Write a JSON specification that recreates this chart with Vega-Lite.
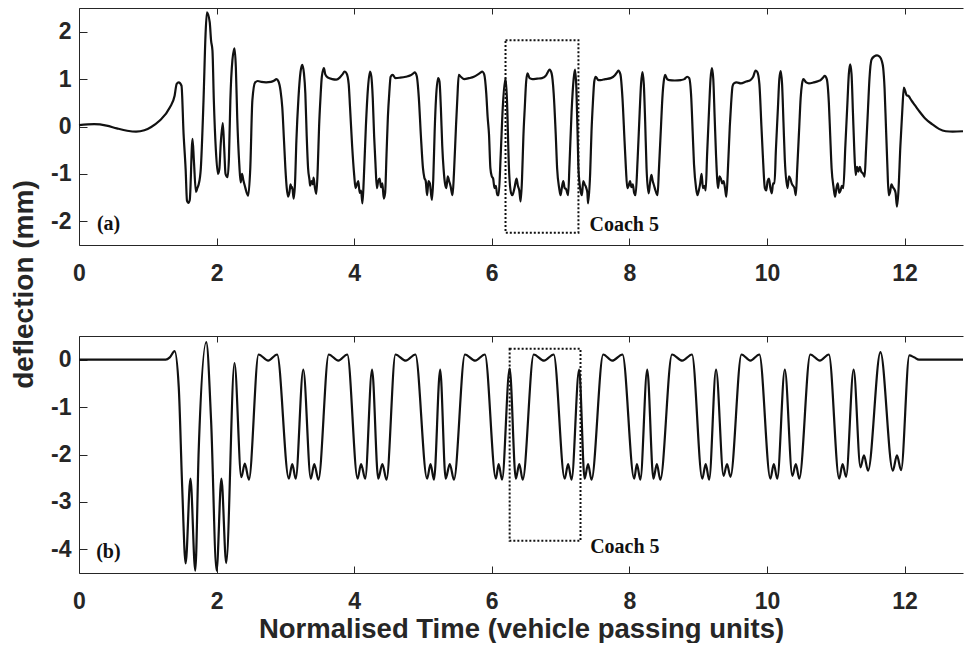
{
  "$schema": "https://vega.github.io/schema/vega-lite/v6.json",
  "padding": {"left": 10, "top": 7, "right": 0, "bottom": 0},
  "background": "white",
  "config": {
    "view": {"stroke": null},
    "axis": {
      "grid": false,
      "domainColor": "#262626",
      "domainWidth": 1,
      "tickColor": "#262626",
      "tickWidth": 1,
      "labelFont": "Liberation Sans",
      "labelFontWeight": "bold",
      "labelFontSize": 23,
      "labelColor": "#262626",
      "labelFlush": false,
      "titleFont": "Liberation Sans",
      "titleFontWeight": "bold",
      "titleColor": "#262626"
    }
  },
  "datasets": {
    "measured": [
      {"t": 0.00, "d": 0.03}, {"t": 0.22, "d": 0.05}, {"t": 0.40, "d": 0.02}, {"t": 0.55, "d": -0.04},
      {"t": 0.70, "d": -0.09}, {"t": 0.83, "d": -0.11}, {"t": 0.95, "d": -0.08}, {"t": 1.05, "d": -0.01},
      {"t": 1.17, "d": 0.12}, {"t": 1.32, "d": 0.40}, {"t": 1.39, "d": 0.65}, {"t": 1.42, "d": 0.90},
      {"t": 1.45, "d": 0.93}, {"t": 1.49, "d": 0.86}, {"t": 1.52, "d": -0.15}, {"t": 1.55, "d": -0.90},
      {"t": 1.57, "d": -1.57}, {"t": 1.59, "d": -1.61}, {"t": 1.61, "d": -1.55}, {"t": 1.65, "d": -0.26},
      {"t": 1.67, "d": -0.72}, {"t": 1.70, "d": -1.38}, {"t": 1.72, "d": -1.30}, {"t": 1.74, "d": -1.22},
      {"t": 1.77, "d": -0.90}, {"t": 1.81, "d": 0.55}, {"t": 1.84, "d": 1.96}, {"t": 1.86, "d": 2.41},
      {"t": 1.90, "d": 2.20}, {"t": 1.92, "d": 1.81}, {"t": 1.94, "d": 1.60}, {"t": 1.96, "d": 0.55},
      {"t": 1.99, "d": -0.51}, {"t": 2.02, "d": -1.00}, {"t": 2.04, "d": -0.90}, {"t": 2.06, "d": -0.37},
      {"t": 2.09, "d": 0.07}, {"t": 2.11, "d": -0.44}, {"t": 2.13, "d": -1.00}, {"t": 2.16, "d": -1.07},
      {"t": 2.18, "d": -0.65}, {"t": 2.20, "d": 0.55}, {"t": 2.23, "d": 1.40}, {"t": 2.26, "d": 1.65},
      {"t": 2.28, "d": 1.25}, {"t": 2.30, "d": 0.19}, {"t": 2.33, "d": -0.80}, {"t": 2.35, "d": -1.18},
      {"t": 2.37, "d": -1.00}, {"t": 2.39, "d": -1.14}, {"t": 2.41, "d": -1.25}, {"t": 2.46, "d": -1.46},
      {"t": 2.49, "d": -0.87}, {"t": 2.52, "d": 0.55}, {"t": 2.56, "d": 0.93}, {"t": 2.60, "d": 0.96},
      {"t": 2.65, "d": 0.94}, {"t": 2.72, "d": 0.93}, {"t": 2.79, "d": 0.94}, {"t": 2.84, "d": 0.97},
      {"t": 2.87, "d": 1.00}, {"t": 2.90, "d": 0.95}, {"t": 2.93, "d": 0.75}, {"t": 2.955, "d": 0.40},
      {"t": 2.98, "d": -0.30}, {"t": 3.00, "d": -0.88}, {"t": 3.02, "d": -1.30}, {"t": 3.04, "d": -1.48},
      {"t": 3.06, "d": -1.38}, {"t": 3.075, "d": -1.22}, {"t": 3.09, "d": -1.30}, {"t": 3.10, "d": -1.28},
      {"t": 3.12, "d": -1.52}, {"t": 3.14, "d": -1.20}, {"t": 3.16, "d": -0.30}, {"t": 3.19, "d": 0.60},
      {"t": 3.22, "d": 1.15}, {"t": 3.245, "d": 1.30}, {"t": 3.27, "d": 1.12}, {"t": 3.29, "d": 0.70},
      {"t": 3.31, "d": -0.20}, {"t": 3.33, "d": -0.88}, {"t": 3.35, "d": -1.12}, {"t": 3.36, "d": -1.25},
      {"t": 3.38, "d": -1.15}, {"t": 3.40, "d": -1.22}, {"t": 3.41, "d": -1.08}, {"t": 3.43, "d": -1.30},
      {"t": 3.45, "d": -1.42}, {"t": 3.47, "d": -0.90}, {"t": 3.49, "d": 0.00}, {"t": 3.51, "d": 0.60},
      {"t": 3.53, "d": 1.05}, {"t": 3.56, "d": 1.23}, {"t": 3.58, "d": 1.10}, {"t": 3.62, "d": 1.03},
      {"t": 3.68, "d": 1.00}, {"t": 3.74, "d": 0.99}, {"t": 3.79, "d": 1.03}, {"t": 3.83, "d": 1.10},
      {"t": 3.86, "d": 1.16}, {"t": 3.89, "d": 1.12}, {"t": 3.92, "d": 0.90}, {"t": 3.94, "d": 0.40},
      {"t": 3.97, "d": -0.40}, {"t": 4.00, "d": -1.02}, {"t": 4.02, "d": -1.30}, {"t": 4.04, "d": -1.22},
      {"t": 4.06, "d": -1.15}, {"t": 4.08, "d": -1.40}, {"t": 4.10, "d": -1.35}, {"t": 4.12, "d": -1.62},
      {"t": 4.14, "d": -1.10}, {"t": 4.17, "d": 0.00}, {"t": 4.20, "d": 0.80}, {"t": 4.23, "d": 1.16},
      {"t": 4.25, "d": 1.05}, {"t": 4.27, "d": 0.60}, {"t": 4.29, "d": -0.20}, {"t": 4.31, "d": -0.80},
      {"t": 4.33, "d": -1.30}, {"t": 4.35, "d": -1.15}, {"t": 4.37, "d": -1.10}, {"t": 4.39, "d": -1.28},
      {"t": 4.41, "d": -1.20}, {"t": 4.43, "d": -1.52}, {"t": 4.45, "d": -1.40}, {"t": 4.47, "d": -0.60},
      {"t": 4.49, "d": 0.20}, {"t": 4.51, "d": 0.70}, {"t": 4.53, "d": 1.05}, {"t": 4.56, "d": 1.09},
      {"t": 4.60, "d": 1.02}, {"t": 4.67, "d": 1.03}, {"t": 4.75, "d": 1.05}, {"t": 4.82, "d": 1.08},
      {"t": 4.86, "d": 1.12}, {"t": 4.88, "d": 1.14}, {"t": 4.91, "d": 1.06}, {"t": 4.94, "d": 0.60},
      {"t": 4.97, "d": -0.20}, {"t": 5.00, "d": -0.88}, {"t": 5.02, "d": -1.08}, {"t": 5.04, "d": -1.15},
      {"t": 5.06, "d": -1.45}, {"t": 5.08, "d": -1.15}, {"t": 5.10, "d": -1.20}, {"t": 5.13, "d": -1.55},
      {"t": 5.15, "d": -1.10}, {"t": 5.17, "d": -0.10}, {"t": 5.19, "d": 0.60}, {"t": 5.22, "d": 1.02},
      {"t": 5.24, "d": 0.95}, {"t": 5.26, "d": 0.40}, {"t": 5.28, "d": -0.40}, {"t": 5.30, "d": -0.90},
      {"t": 5.32, "d": -1.20}, {"t": 5.34, "d": -1.30}, {"t": 5.36, "d": -1.05}, {"t": 5.38, "d": -1.15},
      {"t": 5.40, "d": -1.25}, {"t": 5.43, "d": -1.45}, {"t": 5.45, "d": -1.00}, {"t": 5.48, "d": 0.00},
      {"t": 5.50, "d": 0.60}, {"t": 5.52, "d": 1.09}, {"t": 5.55, "d": 1.05}, {"t": 5.60, "d": 1.00},
      {"t": 5.67, "d": 1.02}, {"t": 5.74, "d": 1.05}, {"t": 5.80, "d": 1.10}, {"t": 5.84, "d": 1.14},
      {"t": 5.86, "d": 1.16}, {"t": 5.89, "d": 1.10}, {"t": 5.92, "d": 0.70}, {"t": 5.94, "d": 0.20},
      {"t": 5.96, "d": -0.17}, {"t": 5.98, "d": -0.88}, {"t": 6.00, "d": -1.05}, {"t": 6.02, "d": -1.10},
      {"t": 6.04, "d": -1.30}, {"t": 6.06, "d": -1.25}, {"t": 6.08, "d": -1.45}, {"t": 6.10, "d": -1.45},
      {"t": 6.13, "d": -0.60}, {"t": 6.16, "d": 0.40}, {"t": 6.20, "d": 1.02}, {"t": 6.22, "d": 0.60},
      {"t": 6.25, "d": -0.88}, {"t": 6.28, "d": -1.40}, {"t": 6.30, "d": -1.45}, {"t": 6.33, "d": -1.30},
      {"t": 6.36, "d": -1.10}, {"t": 6.38, "d": -1.25}, {"t": 6.40, "d": -1.35}, {"t": 6.42, "d": -1.58},
      {"t": 6.44, "d": -1.10}, {"t": 6.46, "d": -0.20}, {"t": 6.48, "d": 0.40}, {"t": 6.50, "d": 0.95},
      {"t": 6.52, "d": 1.12}, {"t": 6.55, "d": 1.02}, {"t": 6.59, "d": 1.00}, {"t": 6.66, "d": 1.01},
      {"t": 6.73, "d": 1.02}, {"t": 6.79, "d": 1.08}, {"t": 6.82, "d": 1.16}, {"t": 6.84, "d": 1.20},
      {"t": 6.87, "d": 1.12}, {"t": 6.90, "d": 0.70}, {"t": 6.93, "d": -0.17}, {"t": 6.95, "d": -0.88},
      {"t": 6.98, "d": -1.30}, {"t": 7.00, "d": -1.45}, {"t": 7.02, "d": -1.28}, {"t": 7.04, "d": -1.15},
      {"t": 7.06, "d": -1.30}, {"t": 7.08, "d": -1.32}, {"t": 7.11, "d": -1.45}, {"t": 7.13, "d": -0.80},
      {"t": 7.16, "d": 0.30}, {"t": 7.19, "d": 1.00}, {"t": 7.21, "d": 1.20}, {"t": 7.23, "d": 0.80},
      {"t": 7.25, "d": -0.30}, {"t": 7.26, "d": -0.88}, {"t": 7.29, "d": -1.35}, {"t": 7.31, "d": -1.45},
      {"t": 7.33, "d": -1.15}, {"t": 7.35, "d": -1.22}, {"t": 7.37, "d": -1.28}, {"t": 7.39, "d": -1.40},
      {"t": 7.40, "d": -1.62}, {"t": 7.43, "d": -1.00}, {"t": 7.45, "d": -0.10}, {"t": 7.47, "d": 0.50},
      {"t": 7.49, "d": 0.95}, {"t": 7.51, "d": 1.05}, {"t": 7.55, "d": 0.98}, {"t": 7.58, "d": 0.98},
      {"t": 7.65, "d": 1.00}, {"t": 7.73, "d": 1.02}, {"t": 7.79, "d": 1.08}, {"t": 7.82, "d": 1.14},
      {"t": 7.84, "d": 1.18}, {"t": 7.87, "d": 1.10}, {"t": 7.90, "d": 0.60}, {"t": 7.93, "d": -0.30},
      {"t": 7.95, "d": -0.88}, {"t": 7.97, "d": -1.30}, {"t": 7.99, "d": -1.25}, {"t": 8.01, "d": -1.15},
      {"t": 8.03, "d": -1.28}, {"t": 8.05, "d": -1.22}, {"t": 8.07, "d": -1.40}, {"t": 8.09, "d": -1.45},
      {"t": 8.12, "d": -0.70}, {"t": 8.15, "d": 0.30}, {"t": 8.17, "d": 0.90}, {"t": 8.19, "d": 1.15},
      {"t": 8.21, "d": 0.90}, {"t": 8.23, "d": 0.10}, {"t": 8.25, "d": -0.88}, {"t": 8.28, "d": -1.41},
      {"t": 8.30, "d": -1.20}, {"t": 8.32, "d": -1.02}, {"t": 8.34, "d": -1.15}, {"t": 8.36, "d": -1.25},
      {"t": 8.38, "d": -1.35}, {"t": 8.41, "d": -1.45}, {"t": 8.43, "d": -0.90}, {"t": 8.46, "d": 0.00},
      {"t": 8.48, "d": 0.60}, {"t": 8.50, "d": 0.95}, {"t": 8.52, "d": 1.09}, {"t": 8.55, "d": 1.00},
      {"t": 8.58, "d": 0.98}, {"t": 8.66, "d": 0.97}, {"t": 8.75, "d": 0.98}, {"t": 8.80, "d": 1.00},
      {"t": 8.84, "d": 1.05}, {"t": 8.87, "d": 1.02}, {"t": 8.90, "d": 0.60}, {"t": 8.92, "d": -0.10},
      {"t": 8.94, "d": -0.80}, {"t": 8.97, "d": -1.30}, {"t": 8.99, "d": -1.45}, {"t": 9.01, "d": -1.35},
      {"t": 9.03, "d": -1.20}, {"t": 9.05, "d": -1.00}, {"t": 9.07, "d": -1.30}, {"t": 9.09, "d": -1.25},
      {"t": 9.11, "d": -1.35}, {"t": 9.13, "d": -0.60}, {"t": 9.16, "d": 0.40}, {"t": 9.18, "d": 1.00},
      {"t": 9.20, "d": 1.23}, {"t": 9.22, "d": 1.00}, {"t": 9.24, "d": 0.20}, {"t": 9.26, "d": -0.60},
      {"t": 9.29, "d": -1.30}, {"t": 9.31, "d": -1.05}, {"t": 9.33, "d": -1.10}, {"t": 9.35, "d": -1.20},
      {"t": 9.37, "d": -1.15}, {"t": 9.39, "d": -1.30}, {"t": 9.41, "d": -1.48}, {"t": 9.43, "d": -1.00},
      {"t": 9.46, "d": 0.00}, {"t": 9.48, "d": 0.50}, {"t": 9.50, "d": 0.85}, {"t": 9.52, "d": 0.91},
      {"t": 9.56, "d": 0.93}, {"t": 9.62, "d": 0.91}, {"t": 9.70, "d": 0.95}, {"t": 9.76, "d": 0.98},
      {"t": 9.80, "d": 1.05}, {"t": 9.835, "d": 1.18}, {"t": 9.86, "d": 1.15}, {"t": 9.89, "d": 0.90},
      {"t": 9.92, "d": 0.00}, {"t": 9.94, "d": -0.60}, {"t": 9.97, "d": -1.30}, {"t": 9.99, "d": -1.35},
      {"t": 10.01, "d": -1.15}, {"t": 10.03, "d": -1.10}, {"t": 10.05, "d": -1.30}, {"t": 10.07, "d": -1.41},
      {"t": 10.09, "d": -1.20}, {"t": 10.11, "d": -1.20}, {"t": 10.13, "d": -0.50}, {"t": 10.16, "d": 0.40},
      {"t": 10.18, "d": 1.00}, {"t": 10.20, "d": 1.17}, {"t": 10.22, "d": 0.90}, {"t": 10.24, "d": 0.10},
      {"t": 10.26, "d": -0.70}, {"t": 10.30, "d": -1.30}, {"t": 10.32, "d": -1.05}, {"t": 10.34, "d": -1.10},
      {"t": 10.36, "d": -1.20}, {"t": 10.38, "d": -1.25}, {"t": 10.40, "d": -1.30}, {"t": 10.42, "d": -1.45},
      {"t": 10.44, "d": -0.90}, {"t": 10.47, "d": 0.00}, {"t": 10.49, "d": 0.60}, {"t": 10.51, "d": 0.90},
      {"t": 10.53, "d": 1.00}, {"t": 10.57, "d": 0.93}, {"t": 10.61, "d": 0.91}, {"t": 10.68, "d": 0.93},
      {"t": 10.75, "d": 0.96}, {"t": 10.78, "d": 0.98}, {"t": 10.82, "d": 1.04}, {"t": 10.84, "d": 1.07},
      {"t": 10.87, "d": 1.00}, {"t": 10.90, "d": 0.50}, {"t": 10.92, "d": -0.20}, {"t": 10.94, "d": -0.88},
      {"t": 10.97, "d": -1.30}, {"t": 10.99, "d": -1.48}, {"t": 11.01, "d": -1.30}, {"t": 11.03, "d": -1.20},
      {"t": 11.05, "d": -1.40}, {"t": 11.07, "d": -1.35}, {"t": 11.09, "d": -1.25}, {"t": 11.11, "d": -1.30},
      {"t": 11.14, "d": -0.40}, {"t": 11.17, "d": 0.50}, {"t": 11.19, "d": 1.10}, {"t": 11.21, "d": 1.31},
      {"t": 11.23, "d": 1.10}, {"t": 11.25, "d": 0.30}, {"t": 11.27, "d": -0.50}, {"t": 11.29, "d": -1.02},
      {"t": 11.31, "d": -0.85}, {"t": 11.33, "d": -0.95}, {"t": 11.35, "d": -0.85}, {"t": 11.37, "d": -0.95},
      {"t": 11.40, "d": -1.00}, {"t": 11.42, "d": -1.06}, {"t": 11.44, "d": -0.50}, {"t": 11.47, "d": 0.40},
      {"t": 11.49, "d": 1.00}, {"t": 11.52, "d": 1.41}, {"t": 11.56, "d": 1.48}, {"t": 11.60, "d": 1.50},
      {"t": 11.64, "d": 1.47}, {"t": 11.67, "d": 1.38}, {"t": 11.69, "d": 1.23}, {"t": 11.71, "d": 0.80},
      {"t": 11.73, "d": 0.00}, {"t": 11.75, "d": -0.80}, {"t": 11.77, "d": -1.45}, {"t": 11.79, "d": -1.38},
      {"t": 11.81, "d": -1.22}, {"t": 11.83, "d": -1.28}, {"t": 11.85, "d": -1.32}, {"t": 11.87, "d": -1.40},
      {"t": 11.89, "d": -1.69}, {"t": 11.91, "d": -1.40}, {"t": 11.94, "d": -0.40}, {"t": 11.97, "d": 0.40},
      {"t": 11.99, "d": 0.82}, {"t": 12.01, "d": 0.75}, {"t": 12.03, "d": 0.66}, {"t": 12.06, "d": 0.64},
      {"t": 12.10, "d": 0.55}, {"t": 12.15, "d": 0.45}, {"t": 12.21, "d": 0.33}, {"t": 12.30, "d": 0.17},
      {"t": 12.40, "d": 0.05}, {"t": 12.50, "d": -0.05}, {"t": 12.60, "d": -0.10}, {"t": 12.70, "d": -0.11},
      {"t": 12.85, "d": -0.10}
    ],
    "simulated": [
      {"t": 0.00, "d": 0.00}, {"t": 1.26, "d": 0.00}, {"t": 1.32, "d": 0.05}, {"t": 1.39, "d": 0.18},
      {"t": 1.45, "d": -0.58}, {"t": 1.50, "d": -2.69}, {"t": 1.55, "d": -4.30}, {"t": 1.62, "d": -2.51},
      {"t": 1.69, "d": -4.45}, {"t": 1.74, "d": -1.91}, {"t": 1.85, "d": 0.37}, {"t": 1.92, "d": -1.28},
      {"t": 2.00, "d": -4.45}, {"t": 2.07, "d": -2.51}, {"t": 2.14, "d": -4.29}, {"t": 2.26, "d": -0.07},
      {"t": 2.36, "d": -2.48}, {"t": 2.41, "d": -2.19}, {"t": 2.47, "d": -2.53},
      {"t": 2.61, "d": 0.11}, {"t": 2.75, "d": -0.02}, {"t": 2.88, "d": 0.11},
      {"t": 3.05, "d": -2.51}, {"t": 3.10, "d": -2.20}, {"t": 3.15, "d": -2.51}, {"t": 3.26, "d": -0.21},
      {"t": 3.37, "d": -2.51}, {"t": 3.42, "d": -2.20}, {"t": 3.48, "d": -2.53},
      {"t": 3.63, "d": 0.11}, {"t": 3.77, "d": -0.02}, {"t": 3.90, "d": 0.11},
      {"t": 4.05, "d": -2.51}, {"t": 4.10, "d": -2.20}, {"t": 4.16, "d": -2.51}, {"t": 4.26, "d": -0.21},
      {"t": 4.35, "d": -2.51}, {"t": 4.41, "d": -2.20}, {"t": 4.47, "d": -2.53},
      {"t": 4.60, "d": 0.11}, {"t": 4.75, "d": -0.02}, {"t": 4.89, "d": 0.11},
      {"t": 5.06, "d": -2.51}, {"t": 5.11, "d": -2.20}, {"t": 5.16, "d": -2.53}, {"t": 5.25, "d": -0.21},
      {"t": 5.33, "d": -2.51}, {"t": 5.39, "d": -2.20}, {"t": 5.45, "d": -2.53},
      {"t": 5.61, "d": 0.11}, {"t": 5.76, "d": -0.02}, {"t": 5.90, "d": 0.11},
      {"t": 6.06, "d": -2.51}, {"t": 6.10, "d": -2.20}, {"t": 6.15, "d": -2.53}, {"t": 6.26, "d": -0.19},
      {"t": 6.35, "d": -2.51}, {"t": 6.40, "d": -2.20}, {"t": 6.45, "d": -2.53},
      {"t": 6.61, "d": 0.11}, {"t": 6.76, "d": -0.02}, {"t": 6.90, "d": 0.11},
      {"t": 7.06, "d": -2.51}, {"t": 7.11, "d": -2.20}, {"t": 7.16, "d": -2.53}, {"t": 7.27, "d": -0.21},
      {"t": 7.35, "d": -2.51}, {"t": 7.40, "d": -2.20}, {"t": 7.45, "d": -2.53},
      {"t": 7.62, "d": 0.11}, {"t": 7.75, "d": -0.02}, {"t": 7.90, "d": 0.11},
      {"t": 8.07, "d": -2.51}, {"t": 8.11, "d": -2.20}, {"t": 8.16, "d": -2.53}, {"t": 8.26, "d": -0.21},
      {"t": 8.35, "d": -2.51}, {"t": 8.40, "d": -2.20}, {"t": 8.45, "d": -2.53},
      {"t": 8.62, "d": 0.11}, {"t": 8.77, "d": -0.02}, {"t": 8.91, "d": 0.11},
      {"t": 9.06, "d": -2.51}, {"t": 9.11, "d": -2.20}, {"t": 9.16, "d": -2.53}, {"t": 9.26, "d": -0.21},
      {"t": 9.37, "d": -2.45}, {"t": 9.42, "d": -2.20}, {"t": 9.47, "d": -2.47},
      {"t": 9.63, "d": 0.11}, {"t": 9.76, "d": -0.02}, {"t": 9.89, "d": 0.11},
      {"t": 10.05, "d": -2.51}, {"t": 10.10, "d": -2.20}, {"t": 10.15, "d": -2.51}, {"t": 10.26, "d": -0.21},
      {"t": 10.37, "d": -2.45}, {"t": 10.42, "d": -2.20}, {"t": 10.47, "d": -2.51},
      {"t": 10.63, "d": 0.11}, {"t": 10.77, "d": -0.02}, {"t": 10.90, "d": 0.11},
      {"t": 11.05, "d": -2.51}, {"t": 11.10, "d": -2.20}, {"t": 11.15, "d": -2.47}, {"t": 11.26, "d": -0.21},
      {"t": 11.36, "d": -2.27}, {"t": 11.41, "d": -2.02}, {"t": 11.47, "d": -2.34}, {"t": 11.65, "d": 0.16},
      {"t": 11.83, "d": -2.34}, {"t": 11.89, "d": -2.02}, {"t": 11.95, "d": -2.33},
      {"t": 12.07, "d": 0.09}, {"t": 12.14, "d": 0.05}, {"t": 12.21, "d": 0.00}, {"t": 12.85, "d": 0.00}
    ],
    "boxes": [
      {"panel": "a", "x1": 6.20, "x2": 7.26, "y1": -2.24, "y2": 1.82},
      {"panel": "b", "x1": 6.26, "x2": 7.29, "y1": -3.82, "y2": 0.23}
    ],
    "notes": [
      {"panel": "a", "x": 0.26, "y": -2.05, "label": "(a)"},
      {"panel": "a", "x": 7.42, "y": -2.07, "label": "Coach 5"},
      {"panel": "b", "x": 0.25, "y": -4.05, "label": "(b)"},
      {"panel": "b", "x": 7.43, "y": -3.95, "label": "Coach 5"}
    ]
  },
  "bounds": "flush",
  "spacing": 91,
  "vconcat": [
    {
      "width": 884,
      "height": 237,
      "resolve": {"axis": {"x": "independent", "y": "independent"}},
      "layer": [
        {
          "data": {"name": "measured"},
          "mark": {"type": "line", "interpolate": "monotone", "color": "#111111", "strokeWidth": 2.2},
          "encoding": {
            "x": {
              "field": "t", "type": "quantitative",
              "scale": {"domain": [0, 12.85], "nice": false, "zero": false},
              "axis": {"orient": "bottom", "values": [0, 2, 4, 6, 8, 10, 12], "title": null, "tickSize": -7, "labelPadding": 24, "labelExpr": "'' + datum.value"}
            },
            "y": {
              "field": "d", "type": "quantitative",
              "scale": {"domain": [-2.5, 2.5], "nice": false, "zero": false},
              "axis": {
                "orient": "left", "values": [-2, -1, 0, 1, 2], "tickSize": -8, "labelPadding": 16,
                "labelExpr": "'' + datum.value",
                "title": "deflection (mm)", "titleFontSize": 28, "titleAngle": -90,
                "titleX": -46.5, "titleY": 276, "titleAlign": "center", "titleBaseline": "alphabetic"
              }
            }
          }
        },
        {
          "data": {"name": "boxes"},
          "transform": [{"filter": "datum.panel === 'a'"}],
          "mark": {"type": "rect", "fill": "transparent", "stroke": "#111111", "strokeWidth": 2, "strokeDash": [2, 2]},
          "encoding": {
            "x": {"field": "x1", "type": "quantitative", "axis": {"orient": "top", "values": [0, 2, 4, 6, 8, 10, 12], "labels": false, "tickSize": -6, "title": null}},
            "x2": {"field": "x2"},
            "y": {"field": "y1", "type": "quantitative", "axis": null},
            "y2": {"field": "y2"}
          }
        },
        {
          "data": {"name": "notes"},
          "transform": [{"filter": "datum.panel === 'a'"}],
          "mark": {"type": "text", "align": "left", "baseline": "middle", "font": "Liberation Serif", "fontWeight": "bold", "fontSize": 20, "color": "#111111"},
          "encoding": {
            "x": {"field": "x", "type": "quantitative", "axis": null},
            "y": {"field": "y", "type": "quantitative", "axis": null},
            "text": {"field": "label"}
          }
        }
      ]
    },
    {
      "width": 884,
      "height": 237,
      "resolve": {"axis": {"x": "independent", "y": "independent"}},
      "layer": [
        {
          "data": {"name": "simulated"},
          "mark": {"type": "line", "interpolate": "monotone", "color": "#111111", "strokeWidth": 2.2},
          "encoding": {
            "x": {
              "field": "t", "type": "quantitative",
              "scale": {"domain": [0, 12.85], "nice": false, "zero": false},
              "axis": {
                "orient": "bottom", "values": [0, 2, 4, 6, 8, 10, 12], "tickSize": -7, "labelPadding": 24,
                "labelExpr": "'' + datum.value",
                "title": "Normalised Time (vehicle passing units)", "titleFontSize": 27.5,
                "titleY": 64, "titleBaseline": "alphabetic"
              }
            },
            "y": {
              "field": "d", "type": "quantitative",
              "scale": {"domain": [-4.5, 0.5], "nice": false, "zero": false},
              "axis": {"orient": "left", "values": [-4, -3, -2, -1, 0], "tickSize": -8, "labelPadding": 16, "labelExpr": "'' + datum.value", "title": null}
            }
          }
        },
        {
          "data": {"name": "boxes"},
          "transform": [{"filter": "datum.panel === 'b'"}],
          "mark": {"type": "rect", "fill": "transparent", "stroke": "#111111", "strokeWidth": 2, "strokeDash": [2, 2]},
          "encoding": {
            "x": {"field": "x1", "type": "quantitative", "axis": {"orient": "top", "values": [0, 2, 4, 6, 8, 10, 12], "labels": false, "tickSize": -6, "title": null}},
            "x2": {"field": "x2"},
            "y": {"field": "y1", "type": "quantitative", "axis": null},
            "y2": {"field": "y2"}
          }
        },
        {
          "data": {"name": "notes"},
          "transform": [{"filter": "datum.panel === 'b'"}],
          "mark": {"type": "text", "align": "left", "baseline": "middle", "font": "Liberation Serif", "fontWeight": "bold", "fontSize": 20, "color": "#111111"},
          "encoding": {
            "x": {"field": "x", "type": "quantitative", "axis": null},
            "y": {"field": "y", "type": "quantitative", "axis": null},
            "text": {"field": "label"}
          }
        }
      ]
    }
  ]
}
